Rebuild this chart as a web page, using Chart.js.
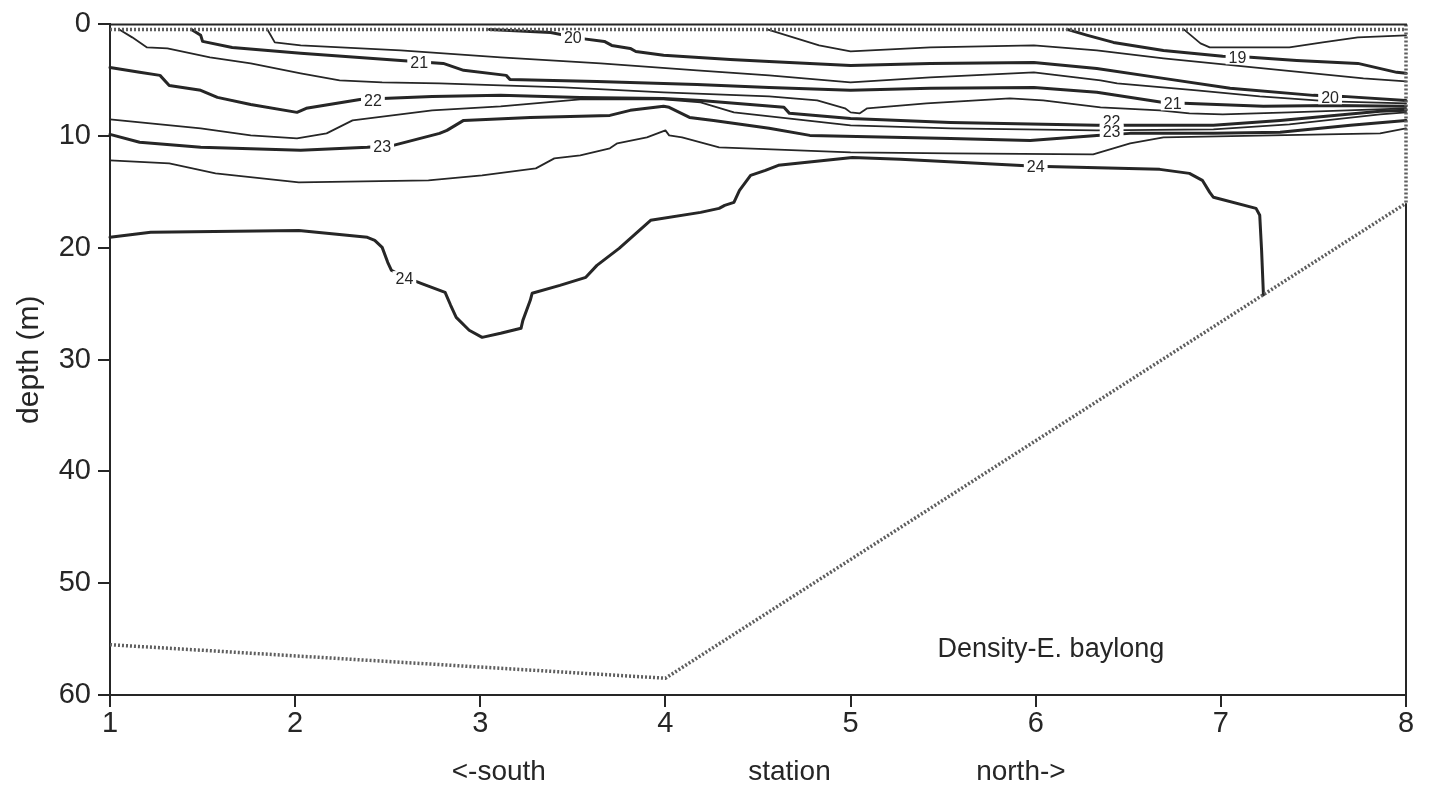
<!DOCTYPE html>
<html><head><meta charset="utf-8">
<script src="https://cdn.jsdelivr.net/npm/chart.js@4.4.1/dist/chart.umd.min.js"></script>
<style>html,body{margin:0;padding:0;background:#fff;}canvas{display:block;}</style>
</head><body>
<canvas id="c" width="1429" height="796"></canvas>
<script>
// ---- axes ----
const stationRange = [1, 8];
const depthRange = [0, 60];
const axisTitleY = 'depth (m)';
const axisTitleX = ['<-south', 'station', 'north->'];
const axisTitleXPos = [3.10, 4.67, 5.92];
const panelText = 'Density-E. baylong';
const panelTextPos = [5.47, 55.9];

// ---- contours: [station, depth(m)] ----
const c18_5 = [[6.80,0.45],[6.89,1.70],[6.94,2.06],[7.37,2.06],[7.55,1.61],[7.74,1.16],[8.0,0.98]];
const c19 = [[6.17,0.45],[6.28,0.98],[6.42,1.61],[6.69,2.33],[7.01,2.86],[7.16,2.95],[7.41,3.22],[7.74,3.49],[7.95,4.29],[8.0,4.38]];
const c19_5 = [[4.55,0.45],[4.69,1.16],[4.83,1.88],[5.0,2.42],[5.43,2.06],[5.99,1.88],[6.33,2.33],[6.69,3.04],[7.23,3.94],[7.77,4.83],[8.0,5.10]];
const c20 = [[3.05,0.45],[3.38,0.72],[3.54,1.25],[3.67,1.52],[3.71,1.88],[3.81,2.15],[3.84,2.42],[3.99,2.77],[4.35,3.13],[4.56,3.31],[5.0,3.67],[5.43,3.49],[5.99,3.40],[6.33,3.94],[6.69,4.83],[7.05,5.72],[7.50,6.35],[7.66,6.44],[8.0,6.80]];
const c20_5 = [[1.85,0.45],[1.89,1.61],[2.03,1.88],[2.57,2.33],[3.11,2.95],[3.65,3.49],[4.17,4.11],[4.56,4.56],[5.0,5.19],[5.43,4.74],[5.99,4.29],[6.35,5.01],[6.44,5.28],[6.87,5.90],[7.21,6.44],[7.59,6.89],[8.0,7.07]];
const c21 = [[1.44,0.45],[1.49,0.98],[1.50,1.52],[1.66,2.06],[2.03,2.59],[2.57,3.22],[2.80,3.49],[2.91,4.11],[3.14,4.56],[3.16,4.92],[3.63,5.10],[4.17,5.37],[4.56,5.64],[5.0,5.90],[5.43,5.72],[5.99,5.64],[6.33,6.08],[6.69,6.98],[7.23,7.33],[7.59,7.25],[8.0,7.33]];
const c21_5 = [[1.05,0.45],[1.12,1.16],[1.20,2.06],[1.31,2.15],[1.54,2.95],[1.76,3.49],[2.03,4.38],[2.24,5.01],[2.47,5.19],[2.78,5.28],[3.11,5.46],[3.45,5.64],[3.99,6.08],[4.56,6.44],[4.82,6.80],[4.97,7.51],[5.0,7.87],[5.05,7.96],[5.09,7.51],[5.41,7.07],[5.86,6.62],[6.04,6.80],[6.35,7.42],[6.67,7.69],[6.83,7.96],[7.01,8.05],[7.37,7.87],[8.0,7.51]];
const c22 = [[1.0,3.85],[1.16,4.29],[1.27,4.56],[1.32,5.46],[1.49,5.90],[1.58,6.53],[1.76,7.16],[2.01,7.87],[2.06,7.51],[2.35,6.71],[2.47,6.62],[2.74,6.44],[3.11,6.35],[3.54,6.53],[3.99,6.62],[4.19,6.80],[4.64,7.42],[4.67,7.96],[5.0,8.41],[5.54,8.77],[6.33,9.03],[6.96,9.03],[7.32,8.59],[7.86,7.78],[8.0,7.69]];
const c22_5 = [[1.0,8.50],[1.49,9.30],[1.76,9.93],[2.01,10.20],[2.17,9.75],[2.31,8.59],[2.74,7.69],[3.11,7.33],[3.54,6.71],[3.99,6.71],[4.19,6.98],[4.37,7.87],[5.0,9.03],[5.54,9.30],[6.33,9.48],[6.96,9.39],[7.37,8.94],[7.86,8.05],[8.0,7.87]];
const c23 = [[1.0,9.84],[1.16,10.55],[1.49,11.00],[2.03,11.27],[2.39,11.00],[2.53,10.82],[2.78,9.75],[2.82,9.48],[2.91,8.59],[3.27,8.32],[3.70,8.14],[3.81,7.69],[3.99,7.33],[4.02,7.42],[4.13,8.32],[4.26,8.59],[4.56,9.30],[4.78,9.93],[5.54,10.20],[5.97,10.38],[6.33,9.93],[6.51,9.75],[6.96,9.75],[7.32,9.66],[7.70,9.03],[8.0,8.59]];
const c23_5 = [[1.0,12.16],[1.32,12.43],[1.57,13.33],[2.02,14.13],[2.72,13.95],[3.01,13.51],[3.30,12.88],[3.40,11.99],[3.54,11.72],[3.70,11.09],[3.74,10.64],[3.90,10.11],[4.0,9.48],[4.02,9.93],[4.09,10.11],[4.29,11.00],[5.0,11.45],[5.54,11.54],[6.31,11.63],[6.51,10.64],[6.69,10.11],[7.86,9.75],[8.0,9.30]];
const c24 = [[1.0,19.05],[1.22,18.60],[2.02,18.43],[2.39,19.05],[2.43,19.32],[2.47,19.95],[2.50,21.29],[2.52,22.0],[2.57,22.45],[2.68,23.17],[2.81,23.97],[2.84,25.13],[2.87,26.21],[2.94,27.37],[3.01,28.0],[3.11,27.64],[3.22,27.19],[3.23,26.48],[3.27,24.69],[3.28,24.06],[3.43,23.35],[3.57,22.63],[3.63,21.56],[3.75,20.04],[3.92,17.53],[4.19,16.82],[4.29,16.46],[4.32,16.19],[4.37,15.92],[4.40,14.85],[4.46,13.51],[4.54,13.06],[4.61,12.61],[5.01,11.90],[5.27,12.07],[6.0,12.70],[6.67,12.97],[6.83,13.33],[6.90,13.95],[6.94,15.03],[6.96,15.47],[7.19,16.46],[7.21,17.08],[7.22,20.21],[7.23,24.2]];

// ---- boundaries ----
const surfaceProfile = [[1,0.45],[8,0.45]];
const bottomProfile = [[1,55.5],[4,58.5],[8,16]];
const rightOpenEdge = [[8,0],[8,16]];

// ---- contour labels ----
const labelText = ['21','20','22','23','24','19','21','20','22','23','24'];
const labelStation = [2.67,3.50,2.42,2.47,2.59,7.09,6.74,7.59,6.41,6.41,6.00];
const labelDepth = [3.40,1.16,6.80,10.91,22.7,2.95,7.07,6.53,8.68,9.57,12.70];

const FONT = '"Liberation Sans", Arial, Helvetica, sans-serif';
const INK = '#262626';
const toXY = a => a.map(p => ({x:p[0], y:p[1]}));

function contour(data, thick){
  return {data: toXY(data), showLine:true, borderColor:INK, borderWidth: thick?3:1.8,
    pointRadius:0, fill:false, tension:0, clip:false, borderJoinStyle:'round', borderCapStyle:'round'};
}
function dotted(data){
  return {data: toXY(data), showLine:true, borderColor:'#5e5e5e', borderWidth:3.5, borderDash:[2,2],
    pointRadius:0, fill:false, tension:0, clip:false};
}

const overlay = {
  id:'overlay',
  afterDatasetsDraw(chart){
    const {ctx, chartArea:a, scales:{x, y}} = chart;
    ctx.save();
    ctx.strokeStyle = INK; ctx.lineWidth = 2;
    ctx.beginPath(); ctx.moveTo(a.left-1, a.top); ctx.lineTo(a.right+1, a.top); ctx.stroke();
    const rb = bottomProfile[bottomProfile.length-1];
    ctx.beginPath(); ctx.moveTo(x.getPixelForValue(rb[0]), y.getPixelForValue(rb[1]));
    ctx.lineTo(x.getPixelForValue(rb[0]), a.bottom); ctx.stroke();
    // contour labels
    ctx.font = '16px ' + FONT; ctx.textAlign='center'; ctx.textBaseline='middle';
    labelText.forEach((t,i)=>{
      const px = x.getPixelForValue(labelStation[i]), py = y.getPixelForValue(labelDepth[i]);
      const w = ctx.measureText(t).width + 6;
      ctx.fillStyle = '#fff'; ctx.fillRect(px-w/2, py-7, w, 14);
      ctx.fillStyle = INK; ctx.fillText(t, px, py+1);
    });
    // panel text
    ctx.font = '27px ' + FONT; ctx.textAlign='left'; ctx.fillStyle = INK;
    ctx.fillText(panelText, x.getPixelForValue(panelTextPos[0]), y.getPixelForValue(panelTextPos[1]));
    // x-axis title pieces
    ctx.font = '28px ' + FONT; ctx.textAlign='center';
    axisTitleX.forEach((t,i)=>{ ctx.fillText(t, x.getPixelForValue(axisTitleXPos[i]), a.bottom + 77); });
    ctx.restore();
  }
};

new Chart(document.getElementById('c'), {
  type:'scatter',
  data:{datasets:[
    dotted(surfaceProfile), dotted(bottomProfile), dotted(rightOpenEdge),
    contour(c18_5,false), contour(c19,true), contour(c19_5,false), contour(c20,true),
    contour(c20_5,false), contour(c21,true), contour(c21_5,false), contour(c22,true),
    contour(c22_5,false), contour(c23,true), contour(c23_5,false), contour(c24,true)
  ]},
  options:{
    responsive:false, animation:false, devicePixelRatio:1,
    layout:{padding:{top:24, right:23, left:0, bottom:0}},
    plugins:{legend:{display:false}, tooltip:{enabled:false}, title:{display:false}},
    scales:{
      x:{type:'linear', min:stationRange[0], max:stationRange[1],
        afterFit(s){ s.height = 101; },
        ticks:{stepSize:1, color:INK, font:{family:FONT, size:29}, padding:0, maxRotation:0},
        grid:{drawOnChartArea:false, drawTicks:true, tickLength:12, color:INK, lineWidth:2},
        border:{display:true, color:INK, width:2},
        title:{display:false}},
      y:{type:'linear', reverse:true, min:depthRange[0], max:depthRange[1],
        afterFit(s){ s.width = 110; },
        ticks:{stepSize:10, color:INK, font:{family:FONT, size:29}, padding:7},
        grid:{drawOnChartArea:false, drawTicks:true, tickLength:12, color:INK, lineWidth:2},
        border:{display:true, color:INK, width:2},
        title:{display:true, text:axisTitleY, color:INK, font:{family:FONT, size:30}, padding:{top:12, bottom:0}}}
    }
  },
  plugins:[overlay]
});
</script>
</body></html>
